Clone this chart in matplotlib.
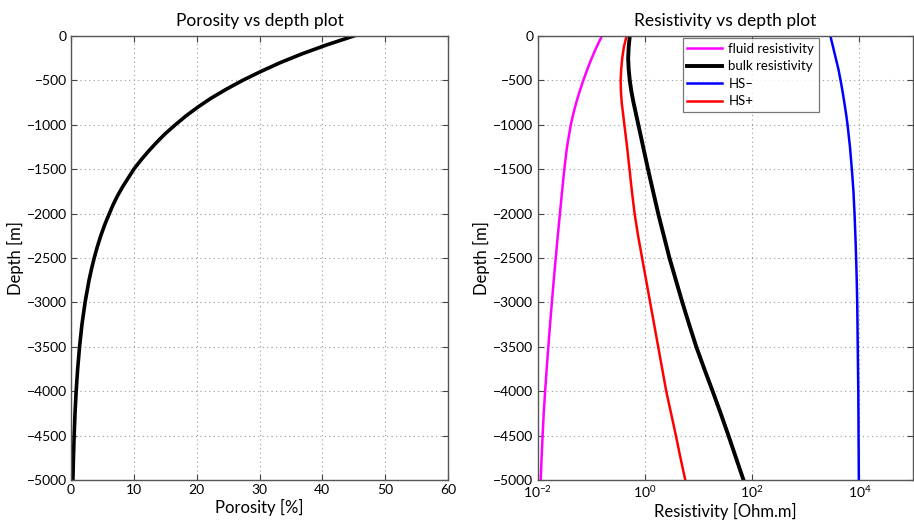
import matplotlib
matplotlib.use("Agg")
import matplotlib.pyplot as plt
import numpy as np
from matplotlib.ticker import FixedLocator, LogFormatterSciNotation, NullLocator

plt.rcParams["font.family"] = ["Lato", "DejaVu Sans"]
plt.rcParams["axes.unicode_minus"] = True

# Porosity profile (depth in m, porosity in %)
por_depth = [0, -100, -200, -300, -400, -500, -600, -700, -800, -900, -1000,
             -1100, -1200, -1300, -1400, -1500, -1600, -1700, -1800, -1900,
             -2000, -2125, -2250, -2375, -2500, -2625, -2750, -3000, -3250,
             -3500, -3750, -4000, -4250, -4500, -4750, -5000]
porosity = [45.0, 40.7, 36.8, 33.3, 30.2, 27.3, 24.7, 22.3, 20.2, 18.3, 16.6,
            15.0, 13.6, 12.3, 11.1, 10.0, 9.1, 8.2, 7.4, 6.7,
            6.1, 5.37, 4.74, 4.18, 3.69, 3.26, 2.87, 2.24, 1.74,
            1.36, 1.06, 0.82, 0.64, 0.50, 0.39, 0.30]

# Resistivity profiles, log10 of Ohm.m
res_depth = [0, -125, -250, -375, -500, -625, -750, -875, -1000, -1250, -1500,
             -1750, -2000, -2250, -2500, -2750, -3000, -3250, -3500, -3750,
             -4000, -4250, -4500, -4750, -5000]
fluid_log = [-0.80, -0.90, -0.99, -1.071, -1.146, -1.215, -1.278, -1.332, -1.38,
             -1.45, -1.50, -1.542, -1.582, -1.622, -1.66, -1.697, -1.732,
             -1.766, -1.798, -1.829, -1.858, -1.884, -1.905, -1.924, -1.94]
bulk_log = [-0.28, -0.30, -0.31, -0.30, -0.28, -0.25, -0.21, -0.165, -0.12,
            -0.03, 0.06, 0.155, 0.25, 0.355, 0.46, 0.58, 0.70, 0.828, 0.96,
            1.11, 1.265, 1.415, 1.56, 1.70, 1.84]
hs_minus_log = [3.46, 3.51, 3.56, 3.61, 3.65, 3.687, 3.72, 3.752, 3.78, 3.825,
                3.86, 3.89, 3.91, 3.926, 3.94, 3.951, 3.96, 3.965, 3.97, 3.975,
                3.98, 3.983, 3.985, 3.988, 3.99]
hs_plus_log = [-0.34, -0.39, -0.42, -0.44, -0.45, -0.445, -0.43, -0.405, -0.38,
               -0.33, -0.285, -0.24, -0.19, -0.125, -0.05, 0.025, 0.10, 0.175,
               0.25, 0.325, 0.40, 0.49, 0.58, 0.665, 0.755]

depth_ticks = list(range(-5000, 1, 500))
por_ticks = [0, 10, 20, 30, 40, 50, 60]
res_ticks = [1e-2, 1e0, 1e2, 1e4]

W, H = 914, 525
fig = plt.figure(figsize=(W / 100, H / 100), dpi=100)
ax1 = fig.add_axes([71 / W, 45 / H, 377 / W, 444 / H])
ax2 = fig.add_axes([537.5 / W, 45 / H, 375.5 / W, 444 / H])


def style(ax):
    ax.set_ylim(-5000, 0)
    ax.set_yticks(depth_ticks)
    ax.grid(True, which="major", linestyle=(0, (1, 3)), color="#9a9a9a", linewidth=0.8)
    ax.set_axisbelow(True)
    ax.tick_params(direction="in", top=True, right=True, labelsize=10,
                   length=4, width=0.8, color="#444444", pad=3)
    ax.tick_params(which="minor", length=0)
    for sp in ax.spines.values():
        sp.set_color("#555555")
        sp.set_linewidth(1.0)
    ax.set_ylabel("Depth [m]", fontsize=12, labelpad=2)


ax1.plot(porosity, por_depth, color="black", linewidth=2.6)
ax1.set_xlim(0, 60)
ax1.set_xticks(por_ticks)
style(ax1)
ax1.set_xlabel("Porosity [%]", fontsize=12, labelpad=2)
ax1.set_title("Porosity vs depth plot", fontsize=12.5, pad=7)

ax2.plot(np.power(10.0, fluid_log), res_depth, color="#ff00ff", linewidth=1.8,
         label="fluid resistivity")
ax2.plot(np.power(10.0, bulk_log), res_depth, color="black", linewidth=2.8,
         label="bulk resistivity")
ax2.plot(np.power(10.0, hs_minus_log), res_depth, color="#0000ff", linewidth=1.8,
         label="HS\u2013")
ax2.plot(np.power(10.0, hs_plus_log), res_depth, color="#ff0000", linewidth=1.8,
         label="HS+")
ax2.set_xscale("log")
ax2.set_xlim(1e-2, 1e5)
ax2.xaxis.set_major_locator(FixedLocator(res_ticks))
ax2.xaxis.set_major_formatter(LogFormatterSciNotation())
ax2.xaxis.set_minor_locator(NullLocator())
style(ax2)
ax2.set_xlabel("Resistivity [Ohm.m]", fontsize=12, labelpad=2)
ax2.set_title("Resistivity vs depth plot", fontsize=12.5, pad=7)

leg = ax2.legend(loc="upper left", bbox_to_anchor=(0.387, 0.995), fontsize=9.5,
                 frameon=True, fancybox=False, handlelength=2.6, handletextpad=0.5,
                 borderpad=0.35, labelspacing=0.42, borderaxespad=0)
leg.get_frame().set_edgecolor("#555555")
leg.get_frame().set_linewidth(0.9)

fig.savefig("out.png", dpi=100)
